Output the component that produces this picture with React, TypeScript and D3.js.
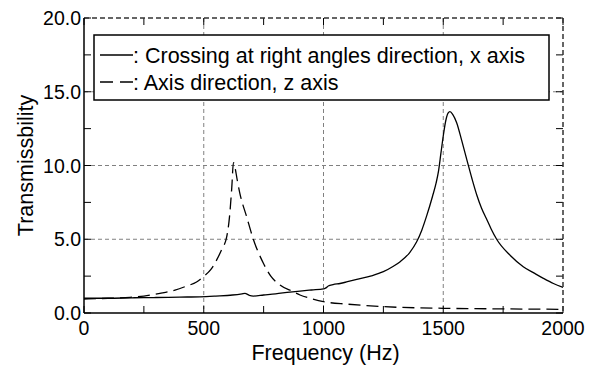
import React from "react";
import * as d3 from "d3";

const freqX = [0, 100, 200, 300, 400, 484, 550, 620, 660, 672, 690, 707, 750, 800, 860, 902, 950, 1000, 1010, 1020, 1040, 1069, 1100, 1139, 1200, 1250, 1290, 1320, 1360, 1389, 1410, 1431, 1455, 1470, 1480, 1490, 1500, 1510, 1520, 1528, 1540, 1556, 1577, 1600, 1620, 1640, 1660, 1680, 1700, 1723, 1780, 1834, 1880, 1918, 1960, 2000];
const valX = [1.0, 1.0, 1.03, 1.05, 1.08, 1.1, 1.15, 1.22, 1.3, 1.33, 1.2, 1.15, 1.22, 1.3, 1.42, 1.49, 1.56, 1.63, 1.7, 1.83, 1.93, 2.0, 2.12, 2.28, 2.52, 2.8, 3.15, 3.48, 4.1, 4.83, 5.6, 6.6, 7.9, 8.8, 9.6, 10.8, 12.0, 13.0, 13.55, 13.65, 13.45, 12.9, 11.7, 10.3, 9.1, 8.0, 7.1, 6.4, 5.7, 5.0, 3.9, 3.14, 2.7, 2.35, 2.0, 1.74];

const freqZ = [0, 50, 100, 192, 250, 317, 380, 429, 470, 498, 530, 554, 575, 596, 608, 617, 624, 630, 640, 651, 679, 707, 749, 780, 818, 874, 902, 950, 1000, 1100, 1250, 1500, 1750, 2000];
const valZ = [0.95, 0.97, 1.0, 1.06, 1.15, 1.33, 1.55, 1.83, 2.1, 2.46, 2.95, 3.6, 4.3, 5.17, 6.6, 8.5, 10.2, 9.9, 9.0, 8.1, 6.53, 5.0, 3.37, 2.5, 1.9, 1.44, 1.22, 0.97, 0.77, 0.6, 0.43, 0.32, 0.28, 0.25];

const xTickLabels = [0, 500, 1000, 1500, 2000];
const yTickLabels = [0, 5, 10, 15, 20];
const xMinor = [0, 250, 500, 750, 1000, 1250, 1500, 1750, 2000];
const yMinor = [0, 2.5, 5, 7.5, 10, 12.5, 15, 17.5, 20];
const legendLabels = [": Crossing at right angles direction, x axis", ": Axis direction, z axis"];

const W = 595, H = 367;
const L = 84, R = 563, T = 18, B = 313;
const FONT = "'Liberation Sans', Arial, Helvetica, sans-serif";

export default function App() {
  const x = d3.scaleLinear().domain([0, 2000]).range([L, R]);
  const y = d3.scaleLinear().domain([0, 20]).range([B, T]);
  const line = d3.line<[number, number]>().x(d => x(d[0])).y(d => y(d[1])).curve(d3.curveMonotoneX);
  const pathX = line(freqX.map((f, i) => [f, valX[i]]) as [number, number][]) || "";
  const pathZ = line(freqZ.map((f, i) => [f, valZ[i]]) as [number, number][]) || "";
  const tk = 7;
  return (
    <svg width={W} height={H} style={{ position: "absolute", left: 0, top: 0, background: "#fff" }} fontFamily={FONT}>
      <rect x={0} y={0} width={W} height={H} fill="#fff" />
      {[500, 1000, 1500].map(v => (
        <line key={"gx" + v} x1={x(v)} x2={x(v)} y1={T} y2={B} stroke="#808080" strokeWidth={1} strokeDasharray="4,3" />
      ))}
      {[5, 10, 15].map(v => (
        <line key={"gy" + v} x1={L} x2={R} y1={y(v)} y2={y(v)} stroke="#808080" strokeWidth={1} strokeDasharray="4,3" />
      ))}
      {xMinor.map(v => (
        <g key={"tx" + v}>
          <line x1={x(v)} x2={x(v)} y1={B} y2={B - tk} stroke="#000" strokeWidth={1} />
          <line x1={x(v)} x2={x(v)} y1={T} y2={T + tk} stroke="#000" strokeWidth={1} />
        </g>
      ))}
      {yMinor.map(v => (
        <g key={"ty" + v}>
          <line x1={L} x2={L + tk} y1={y(v)} y2={y(v)} stroke="#000" strokeWidth={1} />
          <line x1={R} x2={R - tk} y1={y(v)} y2={y(v)} stroke="#000" strokeWidth={1} />
        </g>
      ))}
      <path d={pathZ} fill="none" stroke="#000" strokeWidth={1.3} strokeDasharray="12,6" />
      <path d={pathX} fill="none" stroke="#000" strokeWidth={1.3} />
      <line x1={L} x2={R} y1={T} y2={T} stroke="#333" strokeWidth={1.5} strokeDasharray="5,3" />
      <line x1={R} x2={R} y1={T} y2={B} stroke="#333" strokeWidth={1.5} strokeDasharray="5,3" />
      <line x1={L} x2={L} y1={T} y2={B} stroke="#000" strokeWidth={1.5} />
      <line x1={L} x2={R} y1={B} y2={B} stroke="#000" strokeWidth={1.5} />
      {xTickLabels.map(v => (
        <text key={"lx" + v} x={x(v)} y={335} textAnchor="middle" fontSize={19.5} fill="#000">{v}</text>
      ))}
      {yTickLabels.map(v => (
        <text key={"ly" + v} x={81} y={y(v) + 7} textAnchor="end" fontSize={19.5} fill="#000">{v.toFixed(1)}</text>
      ))}
      <text x={(L + R) / 2 + 2} y={360} textAnchor="middle" fontSize={21.5} fill="#000">Frequency (Hz)</text>
      <text transform={`translate(33,${(T + B) / 2}) rotate(-90)`} textAnchor="middle" fontSize={21.5} fill="#000">Transmissbility</text>
      <rect x={94} y={35} width={455} height={65} fill="#fff" stroke="#000" strokeWidth={1.5} />
      <line x1={100} x2={133} y1={55} y2={55} stroke="#000" strokeWidth={1.3} />
      <line x1={100} x2={133} y1={82} y2={82} stroke="#000" strokeWidth={1.3} strokeDasharray="13,7" />
      <text x={133} y={62.5} fontSize={21.5} fill="#000">{legendLabels[0]}</text>
      <text x={133} y={89.5} fontSize={21.5} fill="#000">{legendLabels[1]}</text>
    </svg>
  );
}
